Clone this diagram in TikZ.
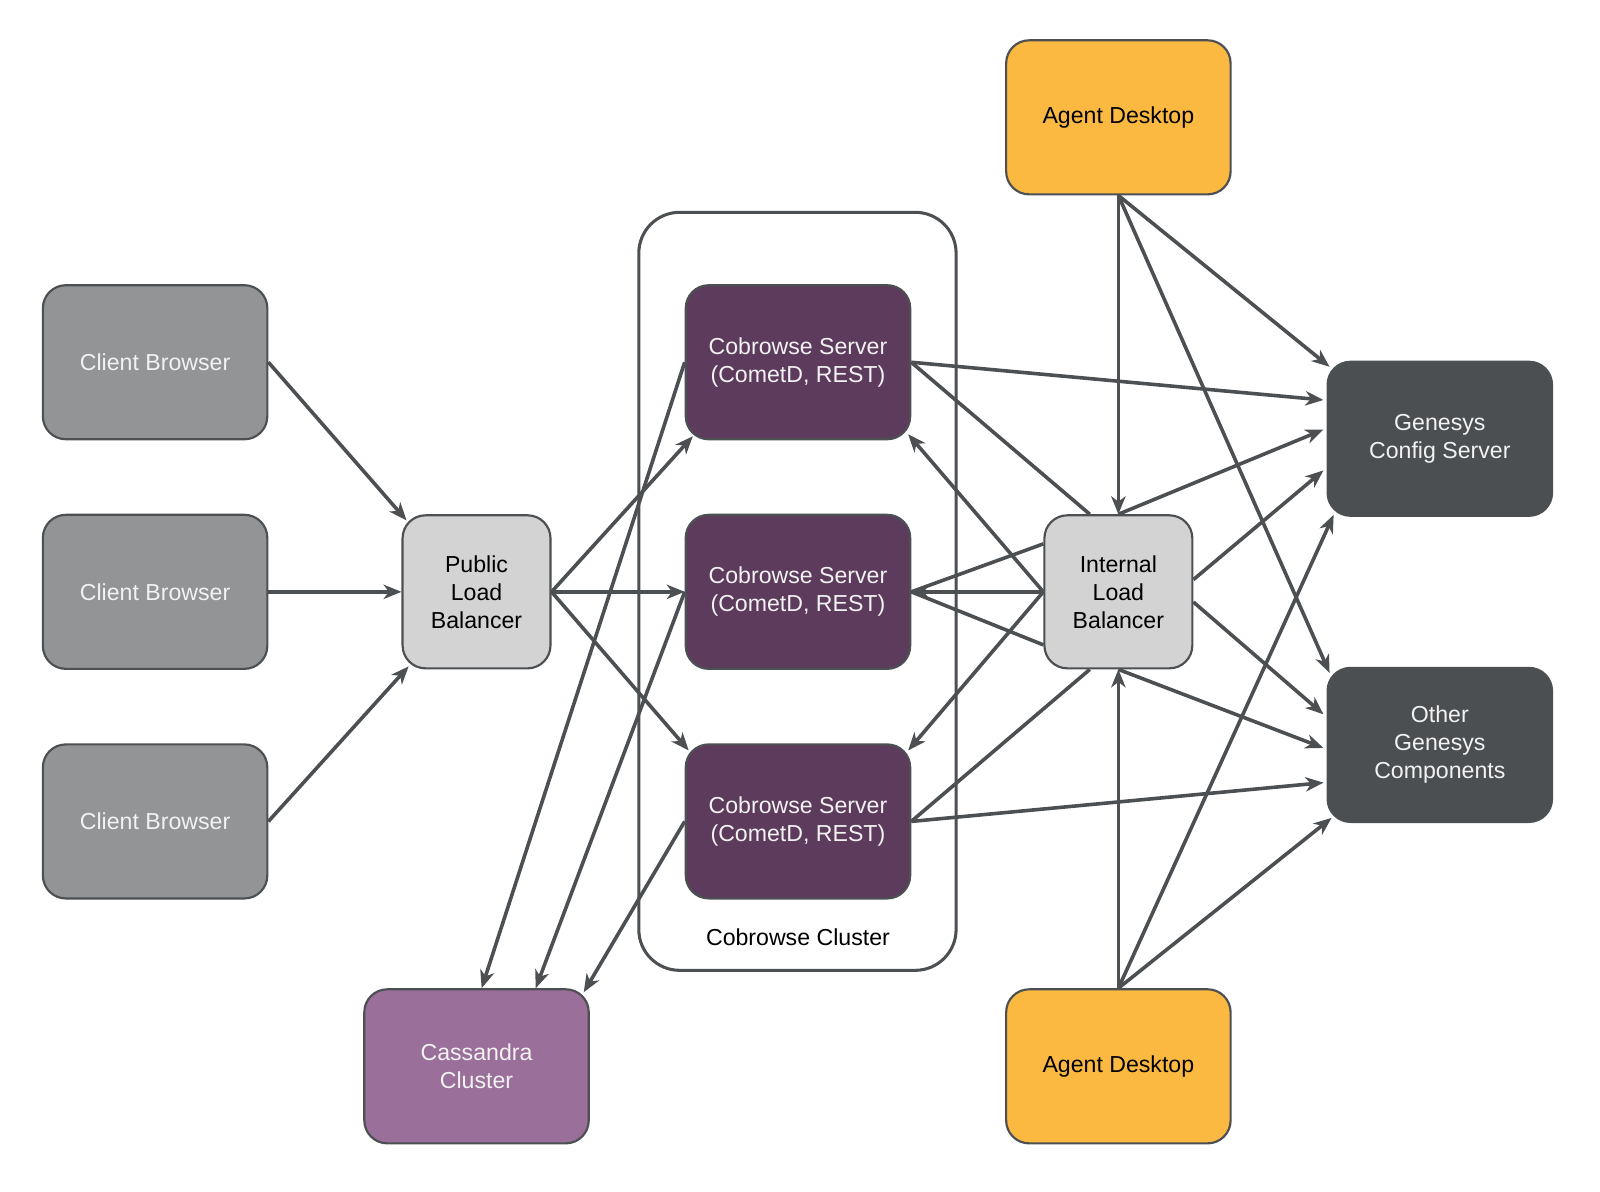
\documentclass[tikz,border=0pt]{standalone}
\usepackage{fontspec}
\setmainfont{Liberation Sans}
\usetikzlibrary{arrows.meta}
\definecolor{edgec}{HTML}{4C5053}
\definecolor{clientc}{HTML}{939496}
\definecolor{lbc}{HTML}{D3D3D3}
\definecolor{csc}{HTML}{5D3B5C}
\definecolor{cassc}{HTML}{9A6F99}
\definecolor{agentc}{HTML}{FCB942}
\definecolor{genc}{HTML}{4B4F52}
\definecolor{lighttext}{HTML}{F2F2F2}
\begin{document}
\begin{tikzpicture}[x=0.02cm,y=-0.02cm,
  box/.style={draw=edgec, line width=1.2pt, rounded corners=0.45cm,
    minimum width=4.4cm, minimum height=3.02cm, inner sep=0pt, align=center,
    font=\fontsize{12.9}{15.6}\selectfont},
  lbbox/.style={box, fill=lbc, minimum width=2.9cm, minimum height=3.0cm, text=black},
  clientbox/.style={box, fill=clientc, text=lighttext},
  csbox/.style={box, fill=csc, text=lighttext},
  cassbox/.style={box, fill=cassc, text=lighttext},
  agentbox/.style={box, fill=agentc, text=black},
  genbox/.style={box, fill=genc, text=lighttext},
  conn/.style={draw=edgec, line width=2.0pt},
  arr/.style={conn, -{Stealth[length=10pt,width=8pt,inset=3pt]}},
  cluster/.style={draw=edgec, line width=1.7pt, rounded corners=0.8cm}
]
\useasboundingbox (0,0) rectangle (1568,1168);

% cluster
\node[cluster, minimum width=6.22cm, minimum height=14.86cm] (clu) at (781.5,579.5) {};
\node[font=\fontsize{12.9}{15.6}\selectfont] (clulabel) at (782,918) {Cobrowse Cluster};

% nodes
\node[clientbox] (cb1) at (152,355) {Client Browser};
\node[clientbox] (cb2) at (152,580) {Client Browser};
\node[clientbox] (cb3) at (152,805) {Client Browser};
\node[lbbox] (plb) at (467,580) {Public\\Load\\Balancer};
\node[csbox] (cs1) at (782,355) {Cobrowse Server\\(CometD, REST)};
\node[csbox] (cs2) at (782,580) {Cobrowse Server\\(CometD, REST)};
\node[csbox] (cs3) at (782,805) {Cobrowse Server\\(CometD, REST)};
\node[cassbox] (cass) at (467,1045) {Cassandra\\Cluster};
\node[agentbox] (ad1) at (1096,115) {Agent Desktop};
\node[agentbox] (ad2) at (1096,1045) {Agent Desktop};
\node[lbbox] (ilb) at (1096,580) {Internal\\Load\\Balancer};
\node[genbox] (gcs) at (1411,430) {Genesys\\Config Server};
\node[genbox] (ogc) at (1411,730) {Other\\Genesys\\Components};

% client browsers -> public LB
\draw[arr] (cb1.east) -- ([shift={(5,6)}]plb.north west);
\draw[arr] (cb2.east) -- (plb.west);
\draw[arr] (cb3.east) -- ([shift={(7,-3)}]plb.south west);

% public LB -> cobrowse servers
\draw[arr] (plb.east) -- ([shift={(8,-4)}]cs1.south west);
\draw[arr] (plb.east) -- (cs2.west);
\draw[arr] (plb.east) -- ([shift={(4,7)}]cs3.north west);

% cobrowse servers -> cassandra
\draw[arr] (cs1.west) -- ([shift={(5,0)}]cass.north);
\draw[arr] (cs2.west) -- ([shift={(58,0)}]cass.north);
\draw[arr] (cs3.west) -- ([shift={(-6,4)}]cass.north east);

% cobrowse servers <-> internal LB
\draw[conn] (cs1.east) -- ([shift={(-28,0)}]ilb.north);
\draw[arr] (ilb.west) -- ([shift={(-3,-6)}]cs1.south east);
\draw[conn] ([shift={(0,-47)}]ilb.west) -- (cs2.east);
\draw[conn] ([shift={(0,52)}]ilb.west) -- (cs2.east);
\draw[arr] (ilb.west) -- (cs2.east);
\draw[arr] (ilb.west) -- ([shift={(-3,7)}]cs3.north east);
\draw[conn] ([shift={(-28,0)}]ilb.south) -- (cs3.east);

% cobrowse servers -> genesys
\draw[arr] (cs1.east) -- ([shift={(-3,-38)}]gcs.west);
\draw[arr] (cs3.east) -- ([shift={(-3,37)}]ogc.west);

% agent desktop 1
\draw[arr] (ad1.south) -- (ilb.north);
\draw[arr] (ad1.south) -- ([shift={(3,6)}]gcs.north west);
\draw[arr] (ad1.south) -- ([shift={(3,6)}]ogc.north west);

% internal LB -> genesys
\draw[arr] (ilb.north) -- ([shift={(-3,-9)}]gcs.west);
\draw[arr] ([shift={(0,-12)}]ilb.east) -- ([shift={(-3,31)}]gcs.west);
\draw[arr] ([shift={(0,10)}]ilb.east) -- ([shift={(-3,-30)}]ogc.west);
\draw[arr] (ilb.south) -- ([shift={(-3,3)}]ogc.west);

% agent desktop 2
\draw[arr] (ad2.north) -- (ilb.south);
\draw[arr] (ad2.north) -- ([shift={(7,-2)}]gcs.south west);
\draw[arr] (ad2.north) -- ([shift={(5,-5)}]ogc.south west);
\end{tikzpicture}
\end{document}
